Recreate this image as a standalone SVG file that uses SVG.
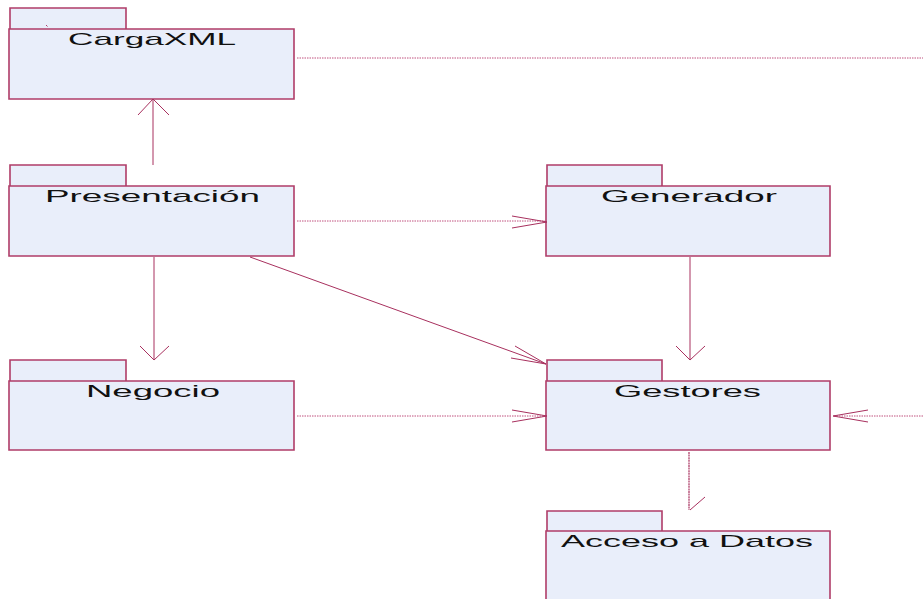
<svg xmlns="http://www.w3.org/2000/svg" width="923" height="599" viewBox="0 0 923 599">
  <style>
    .pkg path { fill: #E9EEFA; stroke: #B03C68; stroke-width: 1.6; }
    .pkg text { font-family: "Liberation Sans", Arial, sans-serif; font-size: 17px; fill: #111; text-anchor: start; }
    .solid { stroke: #A8305E; stroke-width: 1; fill: none; }
    .dot { stroke: #C0507E; stroke-width: 1; stroke-dasharray: 1.5 1; fill: none; }
    .dense { stroke: #A8305E; stroke-width: 1.2; stroke-dasharray: 2 0.6; fill: none; }
    .head { stroke: #A8305E; stroke-width: 1; fill: none; }
  </style>
  <rect width="923" height="599" fill="#ffffff"/>

  <!-- packages: tab + body -->
  <g id="cargaxml" class="pkg">
    <path d="M10 29 V8 H126 V29"/>
    <path d="M9 29 H294 V99 H9 Z"/>
    <path d="M46 25 l1.5 1.5" style="stroke-width:1"/>
    <text x="68" y="45" textLength="168" lengthAdjust="spacingAndGlyphs">CargaXML</text>
  </g>
  <g id="presentacion" class="pkg">
    <path d="M10 186 V165 H126 V186"/>
    <path d="M9 186 H294 V256 H9 Z"/>
    <text x="45" y="202" textLength="215" lengthAdjust="spacingAndGlyphs">Presentación</text>
  </g>
  <g id="generador" class="pkg">
    <path d="M547 186 V165 H662 V186"/>
    <path d="M546 186 H830 V256 H546 Z"/>
    <text x="601" y="202" textLength="176" lengthAdjust="spacingAndGlyphs">Generador</text>
  </g>
  <g id="negocio" class="pkg">
    <path d="M10 381 V360 H126 V381"/>
    <path d="M9 381 H294 V450 H9 Z"/>
    <text x="86" y="397" textLength="134" lengthAdjust="spacingAndGlyphs">Negocio</text>
  </g>
  <g id="gestores" class="pkg">
    <path d="M547 381 V360 H662 V381"/>
    <path d="M546 381 H830 V450 H546 Z"/>
    <text x="614" y="397" textLength="147" lengthAdjust="spacingAndGlyphs">Gestores</text>
  </g>
  <g id="acceso" class="pkg">
    <path d="M547 531 V511 H662 V531"/>
    <path d="M546 531 H830 V610 H546 Z"/>
    <text x="561" y="547" textLength="252" lengthAdjust="spacingAndGlyphs">Acceso a Datos</text>
  </g>

  <!-- dependencies -->
  <g id="connectors">
    <!-- Presentación -> CargaXML -->
    <path class="solid" d="M153 165 V99"/>
    <path class="head" d="M138 115 L153 99 L169 115"/>
    <!-- Presentación -> Negocio -->
    <path class="solid" d="M154 257 V360"/>
    <path class="head" d="M140 346 L154 360 L169 346"/>
    <!-- Presentación -> Generador -->
    <path class="dot" d="M297 221 H546"/>
    <path class="head" d="M512 216 L547 222 L512 228"/>
    <!-- Presentación -> Gestores -->
    <path class="solid" d="M250 257 L546 364"/>
    <path class="head" d="M511 358 L546 364 L515 346"/>
    <!-- Negocio -> Gestores -->
    <path class="dot" d="M297 416 H546"/>
    <path class="head" d="M512 410 L547 416 L512 422"/>
    <!-- Generador -> Gestores -->
    <path class="solid" d="M690 257 V360"/>
    <path class="head" d="M676 346 L690 360 L705 346"/>
    <!-- Gestores -> Acceso a Datos -->
    <path class="dense" d="M689 452 V510"/>
    <path class="head" d="M690 510 L705 497"/>
    <!-- CargaXML -> off page -->
    <path class="dot" d="M297 58 H923"/>
    <!-- off page -> Gestores -->
    <path class="dot" d="M923 416 H833"/>
    <path class="head" d="M868 410 L833 416 L868 422"/>
  </g>
</svg>
